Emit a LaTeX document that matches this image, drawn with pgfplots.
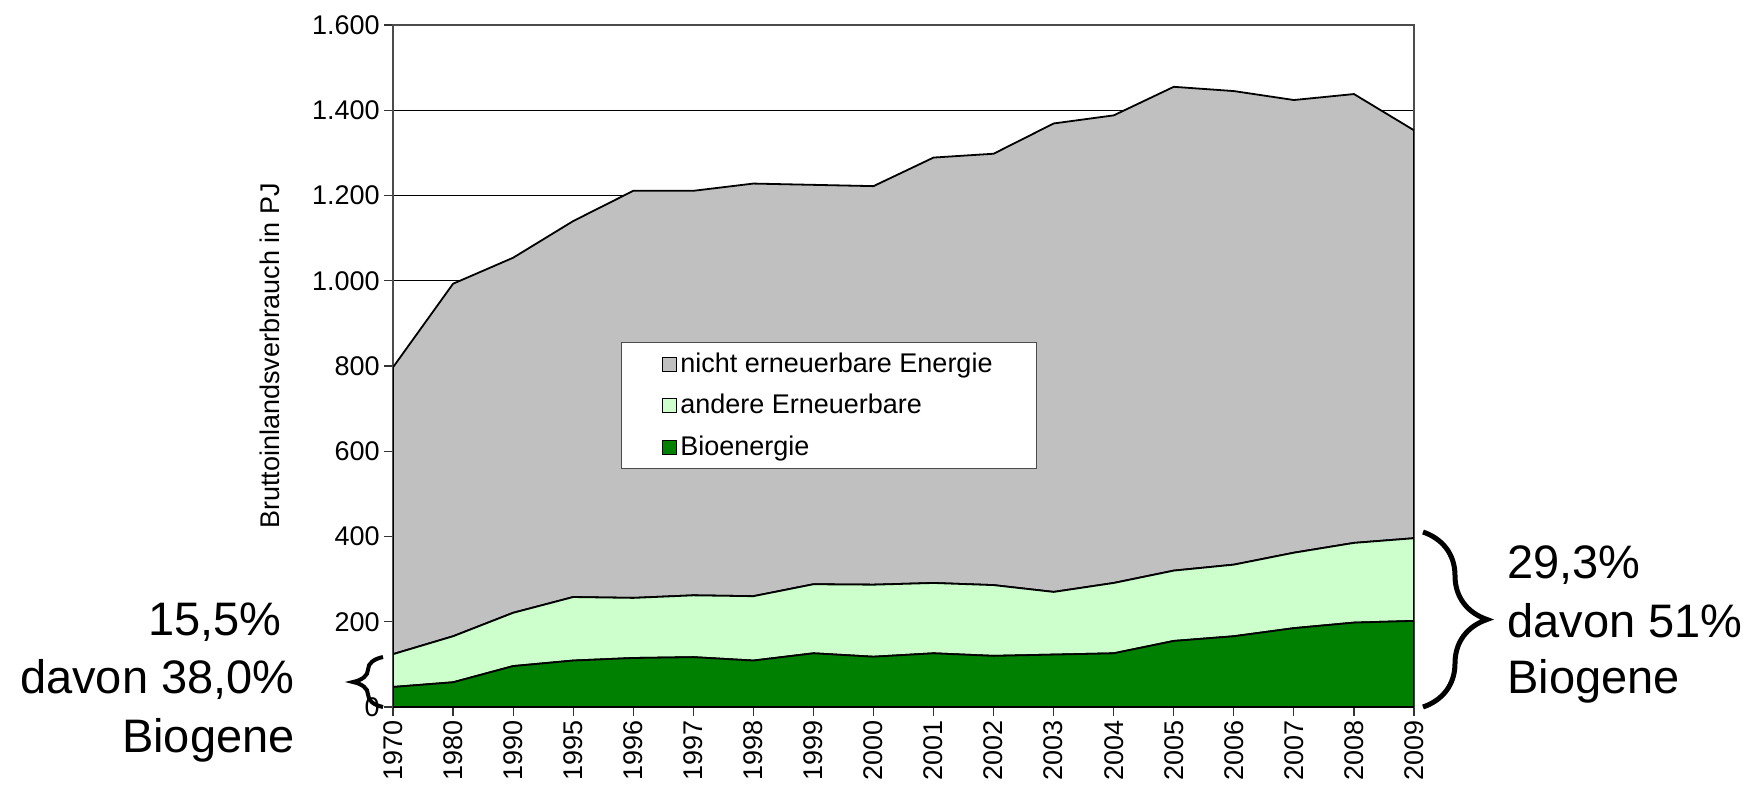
\documentclass[border=0pt]{standalone}
\usepackage{pgfplots}
\pgfplotsset{compat=1.18}
\usepackage{pgfplotstable}
\usepackage{fontspec}
\setmainfont{Liberation Sans}
\usetikzlibrary{decorations.pathreplacing}
\definecolor{nonren}{HTML}{C0C0C0}
\definecolor{otherren}{HTML}{CCFFCC}
\definecolor{bio}{HTML}{008000}

% x = category index, bio / other renewables / non-renewable (PJ)
\pgfplotstableread{
x year bio other nonren
0  1970  47  77 673
1  1980  58 108 827
2  1990  96 125 833
3  1995 109 149 882
4  1996 115 141 955
5  1997 117 145 949
6  1998 109 151 968
7  1999 126 162 937
8  2000 118 169 935
9  2001 126 165 998
10 2002 120 166 1012
11 2003 123 147 1099
12 2004 126 165 1097
13 2005 155 165 1135
14 2006 166 168 1111
15 2007 185 177 1062
16 2008 198 187 1053
17 2009 202 194 957
}\datatable

\begin{document}
\begin{tikzpicture}
\useasboundingbox (0,0) rectangle (880pt,394.5pt);
\begin{axis}[
  at={(196.5pt,41pt)}, anchor=south west,
  scale only axis, width=510.5pt, height=341pt,
  xmin=0, xmax=17, ymin=0, ymax=1600,
  stack plots=y,
  xtick={0,...,17},
  xticklabels={1970,1980,1990,1995,1996,1997,1998,1999,2000,2001,2002,2003,2004,2005,2006,2007,2008,2009},
  ytick={0,200,...,1600},
  yticklabels={0,200,400,600,800,{1.000},{1.200},{1.400},{1.600}},
  tick align=outside, major tick length=4.5pt,
  tick style={black!80, line width=0.6pt},
  xtick pos=bottom, ytick pos=left,
  ticklabel style={font=\fontsize{13.5}{16}\selectfont},
  xticklabel style={rotate=90, anchor=east, inner sep=2pt},
  yticklabel style={inner sep=2pt},
  ymajorgrids, grid style={black, line width=0.5pt},
  axis line style={black!70, line width=0.6pt},
  ylabel={Bruttoinlandsverbrauch in PJ},
  ylabel style={font=\fontsize{13.5}{16}\selectfont, at={(axis description cs:-0.1205,0.5147)}, anchor=center},
  reverse legend,
  legend cell align=left,
  legend style={at={(0.2233,0.535)}, anchor=north west, draw=black!70, fill=white,
    font=\fontsize{13.5}{16}\selectfont, inner xsep=20pt, inner ysep=3pt, row sep=5.5pt,
    line width=0.6pt},
  legend image code/.code={\draw[#1, draw=black, line width=0.4pt] (0pt,-3.5pt) rectangle (7pt,3.5pt);},
]
\addplot[fill=bio, draw=black, line width=0.9pt] table[x=x, y=bio] {\datatable} \closedcycle;
\addlegendentry{Bioenergie}
\addplot[fill=otherren, draw=black, line width=0.9pt] table[x=x, y=other] {\datatable} \closedcycle;
\addlegendentry{andere Erneuerbare}
\addplot[fill=nonren, draw=black, line width=0.9pt] table[x=x, y=nonren] {\datatable} \closedcycle;
\addlegendentry{nicht erneuerbare Energie}
\end{axis}
% braces
\draw[decorate, decoration={brace, amplitude=15pt}, line width=2pt] (191.5pt,41pt) -- (191.5pt,66pt);
\draw[decorate, decoration={brace, amplitude=32pt}, line width=2.5pt] (711.5pt,128.5pt) -- (711.5pt,41pt);
% annotations
\node[anchor=base east, inner sep=0pt, font=\fontsize{23.5}{28}\selectfont] at (141pt,77pt) {15,5\%};
\node[anchor=base east, inner sep=0pt, font=\fontsize{23.5}{28}\selectfont] at (147.5pt,48pt) {davon 38,0\%};
\node[anchor=base east, inner sep=0pt, font=\fontsize{23.5}{28}\selectfont] at (147.5pt,18.5pt) {Biogene};
\node[anchor=base west, inner sep=0pt, font=\fontsize{23.5}{28}\selectfont] at (753.5pt,105.5pt) {29,3\%};
\node[anchor=base west, inner sep=0pt, font=\fontsize{23.5}{28}\selectfont] at (753.5pt,76pt) {davon 51\%};
\node[anchor=base west, inner sep=0pt, font=\fontsize{23.5}{28}\selectfont] at (753.5pt,48pt) {Biogene};
\end{tikzpicture}
\end{document}
